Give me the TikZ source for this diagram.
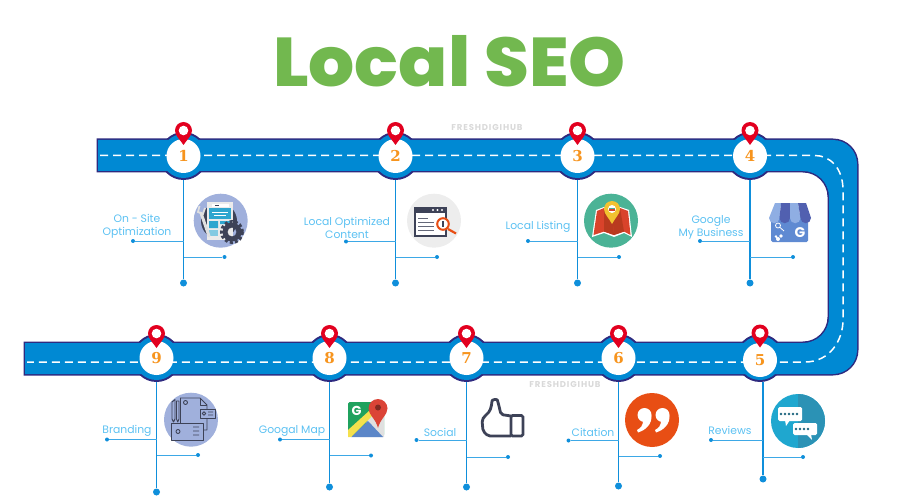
\documentclass[tikz,border=0pt]{standalone}
\usepackage{fontspec}
\setmainfont{Poppins}
\newfontfamily\numfont{DejaVu Serif}
\newfontfamily\titlefont[FakeStretch=1.05]{Poppins ExtraBold}
\newfontfamily\stampfont[LetterSpace=10]{Poppins}
\usetikzlibrary{positioning,calc}

\definecolor{roadblue}{HTML}{0089D3}
\definecolor{roadedge}{HTML}{2E2A7F}
\definecolor{stemblue}{HTML}{0F8FDB}
\definecolor{forkblue}{HTML}{3DA8E6}
\definecolor{labelblue}{HTML}{5CC1F2}
\definecolor{titlegreen}{HTML}{72B84F}
\definecolor{pinred}{HTML}{E2001F}
\definecolor{numorange}{HTML}{F7941D}
\definecolor{iconslate}{HTML}{3D4257}
\definecolor{iconlilac}{HTML}{A0B0DC}
\definecolor{iconcyan}{HTML}{2FA6CF}
\definecolor{mapgreen}{HTML}{4BB396}
\definecolor{mapred}{HTML}{D9432B}
\definecolor{mapdark}{HTML}{B93A1F}
\definecolor{mapyellow}{HTML}{F2C230}
\definecolor{shoplight}{HTML}{8FAEE3}
\definecolor{shopdark}{HTML}{5160B0}
\definecolor{shopbody}{HTML}{5F8AD2}
\definecolor{talkcyan}{HTML}{1FA7CF}
\definecolor{talkdark}{HTML}{2B92B5}
\definecolor{quoteorange}{HTML}{E84E14}
\definecolor{gmapgreen}{HTML}{1FA25E}
\definecolor{gmapblue}{HTML}{5B86C8}
\definecolor{gmapyellow}{HTML}{F4E04D}
\definecolor{gmapred}{HTML}{DB4437}

\newcommand{\roadshape}{(98,140) [rounded corners=24] -- (857,140) -- (857,374)
    [sharp corners] -- (25,374) -- (25,343) [rounded corners=26] -- (829,343)
    -- (829,171) [sharp corners] -- (98,171) -- cycle}

\begin{document}
\begin{tikzpicture}[
    x=1pt,y=-1pt,
    stop/.style={circle,fill=white,minimum size=34,inner sep=0,
                 text=numorange,font=\numfont\bfseries\fontsize{15}{15}\selectfont},
    caption/.style={align=center,text=labelblue,inner sep=0,
                    font=\fontsize{10.8}{13}\selectfont},
    stamp/.style={text=black!15,inner sep=0,font=\stampfont\bfseries\fontsize{8.5}{9}\selectfont},
    tip/.style={circle,fill=stemblue,minimum size=7,inner sep=0},
    end/.style={circle,fill=stemblue,minimum size=4,inner sep=0},
    stem/.style={stemblue,line width=1.2},
    fork/.style={forkblue,line width=1},
    locpin/.pic={
      \fill[pinred] (0,13) .. controls (-3,8) and (-8.5,4) .. (-8.5,-1.5)
        arc[start angle=180,end angle=360,radius=8.5]
        .. controls (8.5,4) and (3,8) .. (0,13) -- cycle;
      \fill[white] (0,-1.5) circle (4.8);
    }]

    \useasboundingbox (0,0) rectangle (900,500);

    \node[text=titlegreen,inner sep=0,font=\titlefont\fontsize{69}{69}\selectfont] (title) at (449.5,61) {Local SEO};
    \node[stamp] (stamp1) at (487,128) {FRESHDIGIHUB};
    \node[stamp] (stamp2) at (565,385) {FRESHDIGIHUB};

    % road
    \draw[roadedge,line width=3,fill=roadedge] \roadshape;
    \fill[roadedge] (183.5,156) circle (24) (395.5,156) circle (24) (577.5,156) circle (24)
      (750,156) circle (24) (156.5,358) circle (24) (329.5,358) circle (24)
      (466.5,358) circle (24) (618.5,358) circle (24) (760,358) circle (24);
    \fill[roadblue] \roadshape;
    \fill[roadblue] (183.5,156) circle (22) (395.5,156) circle (22) (577.5,156) circle (22)
      (750,156) circle (22) (156.5,358) circle (22) (329.5,358) circle (22)
      (466.5,358) circle (22) (618.5,358) circle (22) (760,358) circle (22);
    \draw[white,line width=1.5,dash pattern=on 8 off 5]
      (100,155.5) -- (815,155.5) .. controls (830,155.5) and (843,168) .. (843,190)
      -- (843,320) .. controls (843,340) and (830,362) .. (805,362) -- (27,362);

    % stops
    \node[stop] (stop1) at (183.5,156) {1};
    \node[stop] (stop2) at (395.5,156) {2};
    \node[stop] (stop3) at (577.5,156) {3};
    \node[stop] (stop4) at (750,156) {4};
    \node[stop] (stop5) at (760,360) {5};
    \node[stop] (stop6) at (618.5,358) {6};
    \node[stop] (stop7) at (466.5,358) {7};
    \node[stop] (stop8) at (329.5,358) {8};
    \node[stop] (stop9) at (156.5,358) {9};

    \pic at (183.5,132) {locpin};
    \pic at (395.5,132) {locpin};
    \pic at (577.5,132) {locpin};
    \pic at (750,132) {locpin};
    \pic at (760,334.5) {locpin};
    \pic at (618.5,335) {locpin};
    \pic at (466.5,335) {locpin};
    \pic at (329.5,335) {locpin};
    \pic at (156.5,335) {locpin};

    % stems with their two side branches
    \node[tip] (tip1) at (183.5,283) {};
    \node[end] (left1) at (133,241) {};
    \node[end] (right1) at (224.5,257) {};
    \draw[stem] (stop1.south) ++(0,7) -- (tip1);
    \draw[fork] (left1) -- (left1 -| tip1);
    \draw[fork] (right1) -- (right1 -| tip1);

    \node[tip] (tip2) at (395.5,283) {};
    \node[end] (left2) at (346,241.5) {};
    \node[end] (right2) at (437,257) {};
    \draw[stem] (stop2.south) ++(0,7) -- (tip2);
    \draw[fork] (left2) -- (left2 -| tip2);
    \draw[fork] (right2) -- (right2 -| tip2);

    \node[tip] (tip3) at (577.5,283) {};
    \node[end] (left3) at (528,241) {};
    \node[end] (right3) at (619,257) {};
    \draw[stem] (stop3.south) ++(0,7) -- (tip3);
    \draw[fork] (left3) -- (left3 -| tip3);
    \draw[fork] (right3) -- (right3 -| tip3);

    \node[tip] (tip4) at (750,283) {};
    \node[end] (left4) at (700,241) {};
    \node[end] (right4) at (793,257) {};
    \draw[stem] (stop4.south) ++(0,7) -- (tip4);
    \draw[fork] (left4) -- (left4 -| tip4);
    \draw[fork] (right4) -- (right4 -| tip4);

    \node[tip] (tip5) at (763,479) {};
    \node[end] (left5) at (711,440) {};
    \node[end] (right5) at (803,457) {};
    \draw[stem] (stop5.south -| tip5) ++(0,5) -- (tip5);
    \draw[fork] (left5) -- (left5 -| tip5);
    \draw[fork] (right5) -- (right5 -| tip5);

    \node[tip] (tip6) at (618.5,486) {};
    \node[end] (left6) at (568.5,440.5) {};
    \node[end] (right6) at (660,456) {};
    \draw[stem] (stop6.south) ++(0,7) -- (tip6);
    \draw[fork] (left6) -- (left6 -| tip6);
    \draw[fork] (right6) -- (right6 -| tip6);

    \node[tip] (tip7) at (466.5,487) {};
    \node[end] (left7) at (416.5,440) {};
    \node[end] (right7) at (508,457) {};
    \draw[stem] (stop7.south) ++(0,7) -- (tip7);
    \draw[fork] (left7) -- (left7 -| tip7);
    \draw[fork] (right7) -- (right7 -| tip7);

    \node[tip] (tip8) at (329.5,487) {};
    \node[end] (left8) at (280,439.5) {};
    \node[end] (right8) at (371,455.5) {};
    \draw[stem] (stop8.south) ++(0,7) -- (tip8);
    \draw[fork] (left8) -- (left8 -| tip8);
    \draw[fork] (right8) -- (right8 -| tip8);

    \node[tip] (tip9) at (156.5,492) {};
    \node[end] (left9) at (107,439.5) {};
    \node[end] (right9) at (198,455) {};
    \draw[stem] (stop9.south) ++(0,7) -- (tip9);
    \draw[fork] (left9) -- (left9 -| tip9);
    \draw[fork] (right9) -- (right9 -| tip9);

    % captions
    \node[caption] (cap1) at (137,226.5) {On - Site\\Optimization};
    \node[caption] (cap2) at (347,227.5) {Local Optimized\\Content};
    \node[caption] (cap3) at (538,227) {Local Listing};
    \node[caption] (cap4) at (711,227.5) {Google\\My Business};
    \node[caption] (cap5) at (730,430) {Reviews};
    \node[caption] (cap6) at (593,432) {Citation};
    \node[caption] (cap7) at (440,432) {Social};
    \node[caption] (cap8) at (292,431) {Googal Map};
    \node[caption] (cap9) at (127,431) {Branding};

    % icon 1: page, wrench and gear
    \fill[iconlilac] (220.7,220.7) circle (27);
    \fill[iconslate] (219,221) circle (18);
    \fill[black!8] (207,202) rectangle (233,240);
    \fill[white] (212,203.5) rectangle (229,207);
    \fill[iconslate] (215,204.5) rectangle (219,206);
    \fill[iconcyan] (209,208) rectangle (231,219);
    \draw[white,line width=.7] (212,212) -- (228,212) (214,215) -- (226,215);
    \fill[iconcyan] (209,221) rectangle (218,228) (220,221) rectangle (231,224);
    \fill[iconcyan!60] (209,230) rectangle (218,236);
    \draw[black!12,line width=3,line cap=round] (201,213) -- (209,236);
    \draw[black!12,line width=1.8] (199.5,206) -- (198,212) -- (203,214) -- (205,208);
    \draw[iconslate,line width=3,dash pattern=on 3 off 2.2] (232,232) circle (10.5);
    \fill[iconslate,even odd rule] (232,232) circle (9.5) (232,232) circle (4.5);

    % icon 2: browser window and lens
    \fill[black!7] (434,220.7) circle (27);
    \fill[iconslate] (414,207) rectangle (447,237);
    \fill[white] (416,213) rectangle (445,235);
    \fill[white] (433,210) circle (1.2) (437.5,210) circle (1.2) (442,210) circle (1.2);
    \draw[iconslate!80,line width=1] (418,218) -- (428,218) (418,222) -- (434,222)
      (418,226) -- (434,226) (418,230) -- (434,230);
    \draw[quoteorange,line width=2.2] (448,229) -- (456,233.5);
    \draw[quoteorange,line width=2,fill=white] (443,224) circle (5.8);
    \fill[iconslate] (442,221) rectangle (444,227);

    % icon 3: folded map and marker
    \fill[mapgreen] (611,220.7) circle (27);
    \fill[white] (596,210) -- (604,207) -- (612,211) -- (620,207) -- (629,210) -- (632,237)
      -- (624,233) -- (614,237) -- (604,233) -- (592,237) -- cycle;
    \fill[mapred] (597,211) -- (604,208) -- (612,212) -- (620,208) -- (628,211)
      -- (630.5,235) -- (624,231.5) -- (614,235) -- (604,231.5) -- (593.5,235) -- cycle;
    \fill[mapdark] (604,208) -- (612,212) -- (614,235) -- (604,231.5) -- cycle;
    \fill[mapdark] (620,208) -- (612,212) -- (614,235) -- (624,231.5) -- cycle;
    \fill[mapyellow] (612,224) .. controls (609,218) and (604,214) .. (604,209)
      arc[start angle=180,end angle=360,radius=8] .. controls (620,214) and (615,218) .. (612,224) -- cycle;
    \fill[white] (612,209) circle (4);
    \fill[mapred] (609,209) rectangle (615,211);
    \fill[mapgreen] (609,207.5) rectangle (615,209);

    % icon 4: shop front
    \fill[shopbody,rounded corners=1.5] (771,216) rectangle (808,242);
    \fill[shoplight] (775,203) -- (769,218) arc[start angle=180,end angle=0,radius=5.25] -- (781,203) -- cycle;
    \fill[shopdark] (781,203) -- (779.5,218) arc[start angle=180,end angle=0,radius=5.25] -- (790,203) -- cycle;
    \fill[shoplight] (790,203) -- (790,218) arc[start angle=180,end angle=0,radius=5.25] -- (798,203) -- cycle;
    \fill[shopdark] (798,203) -- (800.5,218) arc[start angle=180,end angle=0,radius=5.25] -- (806,203) -- cycle;
    \node[inner sep=0,text=white,font=\bfseries\fontsize{14}{14}\selectfont] (shopg) at (800,233) {G};
    \draw[white,line width=.8] (778,225.5) circle (2.5) (780,227.5) -- (784,231);
    \fill[white] (778,239) circle (2) (781,236) circle (1.8) (776,236.5) circle (1.3);

    % icon 5: review bubbles
    \fill[talkcyan] (798,421) circle (27);
    \begin{scope}
      \clip (798,392) rectangle (826,450);
      \fill[talkdark] (798,421) circle (27);
    \end{scope}
    \fill[white,rounded corners=1.5] (778,407) rectangle (802,421);
    \fill[white] (785,420) -- (790,420) -- (786,426) -- cycle;
    \fill[white,rounded corners=1.5] (793,423) rectangle (817,435);
    \fill[white] (806,434) -- (811,434) -- (812,440) -- cycle;
    \fill[talkdark!70!black] (781,414) circle (1.3) (785,414) circle (1.3) (789,414) circle (1.3)
      (793,414) circle (1.3) (797,414) circle (1.3) (796,429) circle (1.3) (800,429) circle (1.3)
      (804,429) circle (1.3) (808,429) circle (1.3);

    % icon 6: quotation marks
    \fill[quoteorange] (652,420) circle (27);
    \fill[white] (644.5,415) circle (7);
    \fill[white] (651.5,415.5) .. controls (652,424) and (646,430) .. (638,432.5)
      -- (637,430) .. controls (641,428) and (643,425) .. (643,421) -- cycle;
    \fill[white] (662.5,415) circle (7);
    \fill[white] (669.5,415.5) .. controls (670,424) and (664,430) .. (656,432.5)
      -- (655,430) .. controls (659,428) and (661,425) .. (661,421) -- cycle;

    % icon 7: thumb
    \draw[iconslate,line width=2.8,rounded corners=2,line join=round]
      (511,416) -- (501,414.5) -- (498,402) .. controls (497,399) and (492,399.5) .. (492,403)
      -- (490,411) -- (484,417) -- (482,420) -- (483,431) -- (488,436) -- (511,436);
    \draw[iconslate,line width=2.8,rounded corners=1.5] (511,415.5) rectangle (523,436);

    % icon 8: map pin
    \fill[gmapgreen,rounded corners=1.5] (348,402) rectangle (384,436);
    \fill[black!12] (384,404) -- (384,437) -- (360,437) -- (372,410) -- cycle;
    \fill[gmapblue] (351,437) -- (368,421) -- (383,437) -- cycle;
    \fill[gmapyellow] (348,430) -- (369,411) -- (373,415) -- (351,437) -- (348,437) -- cycle;
    \node[inner sep=0,text=white,font=\bfseries\fontsize{13}{13}\selectfont] (mapg) at (356.5,411) {G};
    \fill[gmapred] (378,428) .. controls (376,419) and (368.5,415) .. (368.5,408.5)
      arc[start angle=180,end angle=360,radius=9.5] .. controls (387.5,415) and (380,419) .. (378,428) -- cycle;
    \fill[gmapred!60!black] (378,407.5) circle (3);

    % icon 9: stationery
    \fill[iconlilac] (191,419.7) circle (27);
    \begin{scope}[iconslate,line width=.9,line join=round]
      \draw (180,398) -- (200,398) -- (207,405) -- (207,430) -- (203,430);
      \draw (180,423) -- (180,398);
      \draw (200,398) -- (200,405) -- (207,405);
      \draw (185.5,402.5) circle (2);
      \draw[fill=iconlilac] (200,409) rectangle (215,418);
      \draw (204,413.5) circle (1.8) (208,412) -- (213,412) (208,415) -- (213,415);
      \draw[fill=iconlilac] (171,423) rectangle (203,440);
      \draw (178,431.5) circle (2) (193,427) -- (199,427) (193,431) -- (199,431) (193,435) -- (199,435);
      \draw (172,402) -- (175,399.5) -- (175,419) -- (173.5,422) -- (172,419) -- cycle;
      \draw (176.5,401) -- (179,401) -- (179,419) -- (177.8,422) -- (176.5,419) -- cycle;
    \end{scope}
\end{tikzpicture}
\end{document}
